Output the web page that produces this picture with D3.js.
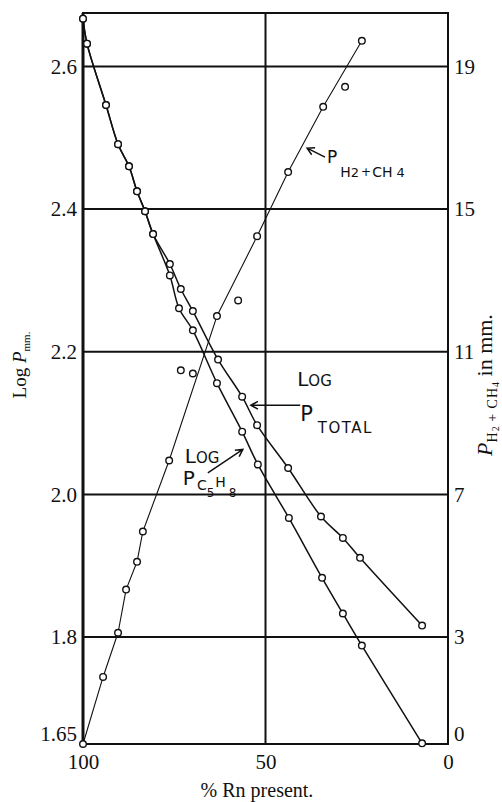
<!DOCTYPE html>
<html>
<head>
<meta charset="utf-8">
<script src="https://d3js.org/d3.v7.min.js"></script>
<style>
body { margin:0; background:#fff; }
text { fill:#111; }
</style>
</head>
<body>
<div id="chart"></div>
<script>

// % Rn present (x) and log P (left axis) for the two falling curves
var pctTotal = [100, 98.9, 93.7, 90.4, 87.4, 85.2, 83.0, 80.8, 76.2, 73.2, 69.9, 63.0, 56.4, 52.3, 43.8, 34.8, 28.8, 24.1, 7.1]
var logTotal = [2.667, 2.632, 2.546, 2.491, 2.460, 2.425, 2.397, 2.365, 2.323, 2.288, 2.257, 2.189, 2.137, 2.097, 2.037, 1.969, 1.939, 1.911, 1.816]

var pctC5H8 = [100, 98.9, 93.7, 90.4, 87.4, 85.2, 83.0, 80.8, 76.2, 73.7, 69.9, 63.3, 56.4, 52.1, 43.6, 34.5, 28.8, 23.6, 7.1]
var logC5H8 = [2.667, 2.632, 2.546, 2.491, 2.460, 2.425, 2.397, 2.365, 2.307, 2.261, 2.230, 2.156, 2.088, 2.042, 1.967, 1.883, 1.833, 1.788, 1.651]

// P H2+CH4 in mm (right axis)
var pctH2 = [100, 94.5, 90.4, 88.2, 85.2, 83.6, 76.4, 63.3, 52.3, 43.8, 34.2, 23.6]
var pH2 = [0, 1.88, 3.12, 4.33, 5.11, 5.96, 7.95, 12.0, 14.24, 16.04, 17.87, 19.72]
// points that sit off the drawn line
var pctH2Off = [73.2, 69.9, 57.5, 28.2]
var pH2Off = [10.48, 10.39, 12.44, 18.43]

var logTicks = [1.65, 1.8, 2.0, 2.2, 2.4, 2.6]
var pTicks = [0, 3, 7, 11, 15, 19]
var pctTicks = [100, 50, 0]

var W = 502, H = 802
var L = 83, R = 448, T = 13, B = 744

var svg = d3.select("#chart").append("svg")
  .attr("width", W)
  .attr("height", H)

var x = d3.scaleLinear().domain([100, 0]).range([L, R])
var yL = d3.scaleLinear().domain([1.65, 2.675]).range([B, T])
var yP = d3.scaleLinear().domain([0, 20.5]).range([B, T])

var serif = "'Liberation Serif', 'Times New Roman', serif"
var sans = "'DejaVu Sans', sans-serif"

function zip(a, b) {
  return a.map(function(d, i) { return [d, b[i]] })
}

// grid
svg.append("g").selectAll("line")
  .data(logTicks.slice(1))
  .enter()
  .append("line")
  .attr("x1", L).attr("x2", R)
  .attr("y1", function(d) { return yL(d) })
  .attr("y2", function(d) { return yL(d) })
  .attr("stroke", "#111")
  .attr("stroke-width", 2)

svg.append("line")
  .attr("x1", x(50)).attr("x2", x(50))
  .attr("y1", T).attr("y2", B)
  .attr("stroke", "#111")
  .attr("stroke-width", 2)

// frame
svg.append("rect")
  .attr("x", L).attr("y", T)
  .attr("width", R - L).attr("height", B - T)
  .attr("fill", "none")
  .attr("stroke", "#111")
  .attr("stroke-width", 2)
svg.append("line")
  .attr("x1", L).attr("x2", L).attr("y1", T).attr("y2", B)
  .attr("stroke", "#111").attr("stroke-width", 3)

// axes (labels only)
var leftAxis = svg.append("g")
  .attr("transform", "translate(" + L + ",0)")
  .call(d3.axisLeft(yL).tickValues(logTicks).tickSize(0).tickPadding(6)
    .tickFormat(function(d) { return d == 1.65 ? "1.65" : d.toFixed(1) }))
var rightAxis = svg.append("g")
  .attr("transform", "translate(" + R + ",0)")
  .call(d3.axisRight(yP).tickValues(pTicks).tickSize(0).tickPadding(6))
var bottomAxis = svg.append("g")
  .attr("transform", "translate(0," + B + ")")
  .call(d3.axisBottom(x).tickValues(pctTicks).tickSize(0).tickPadding(10))

;[leftAxis, rightAxis, bottomAxis].forEach(function(g) {
  g.select(".domain").remove()
  g.selectAll("text")
    .attr("font-family", serif)
    .attr("font-size", 21)
    .attr("fill", "#111")
})
leftAxis.selectAll("text").filter(function(d) { return d == 1.65 }).attr("dy", "-0.15em")
rightAxis.selectAll("text").filter(function(d) { return d == 0 }).attr("dy", "-0.15em")

// axis titles
svg.append("text")
  .attr("x", 257).attr("y", 797)
  .attr("text-anchor", "middle")
  .attr("font-family", serif)
  .attr("font-size", 20)
  .text("% Rn present.")

var leftTitle = svg.append("text")
  .attr("transform", "translate(26,365) rotate(-90)")
  .attr("text-anchor", "middle")
  .attr("font-family", serif)
  .attr("font-size", 19)
leftTitle.append("tspan").text("Log ")
leftTitle.append("tspan").attr("font-style", "italic").text("P")
leftTitle.append("tspan").attr("font-size", 11).attr("dy", 4).text("mm.")

var rightTitle = svg.append("text")
  .attr("transform", "translate(492,385) rotate(-90)")
  .attr("text-anchor", "middle")
  .attr("font-family", serif)
  .attr("font-size", 22)
rightTitle.append("tspan").attr("font-style", "italic").text("P")
rightTitle.append("tspan").attr("font-size", 14).attr("dy", 5).attr("letter-spacing", 1).text("H")
rightTitle.append("tspan").attr("font-size", 10).attr("dy", 2).text("2")
rightTitle.append("tspan").attr("font-size", 14).attr("dy", -2).attr("letter-spacing", 1).text(" + CH")
rightTitle.append("tspan").attr("font-size", 10).attr("dy", 2).text("4")
rightTitle.append("tspan").attr("dy", -7).text(" in mm.")

// curves
var lineLog = d3.line()
  .x(function(d) { return x(d[0]) })
  .y(function(d) { return yL(d[1]) })
  .curve(d3.curveCatmullRom.alpha(0.5))
var lineP = d3.line()
  .x(function(d) { return x(d[0]) })
  .y(function(d) { return yP(d[1]) })

var series = [
  { pts: zip(pctTotal, logTotal), gen: lineLog, y: yL, w: 1.5 },
  { pts: zip(pctC5H8, logC5H8), gen: lineLog, y: yL, w: 1.5 },
  { pts: zip(pctH2, pH2), gen: lineP, y: yP, w: 1.1 }
]

series.forEach(function(s) {
  svg.append("path")
    .attr("d", s.gen(s.pts))
    .attr("fill", "none")
    .attr("stroke", "#111")
    .attr("stroke-width", s.w)
    .attr("stroke-linejoin", "round")
})

function dots(pts, yScale) {
  svg.append("g").selectAll("circle")
    .data(pts)
    .enter()
    .append("circle")
    .attr("cx", function(d) { return x(d[0]) })
    .attr("cy", function(d) { return yScale(d[1]) })
    .attr("r", 3.3)
    .attr("fill", "#fff")
    .attr("stroke", "#111")
    .attr("stroke-width", 1.4)
}
series.forEach(function(s) { dots(s.pts, s.y) })
dots(zip(pctH2Off, pH2Off), yP)

// annotations
function arrow(x1, y1, x2, y2) {
  var a = Math.atan2(y2 - y1, x2 - x1), h = 8
  svg.append("path")
    .attr("d", "M" + x1 + "," + y1 + "L" + x2 + "," + y2 +
      "M" + (x2 - h * Math.cos(a - 0.5)) + "," + (y2 - h * Math.sin(a - 0.5)) +
      "L" + x2 + "," + y2 +
      "L" + (x2 - h * Math.cos(a + 0.5)) + "," + (y2 - h * Math.sin(a + 0.5)))
    .attr("fill", "none")
    .attr("stroke", "#111")
    .attr("stroke-width", 1.5)
}
// parts: [text, size, dx, dy, spacing]
function label(px, py, parts) {
  var t = svg.append("text")
    .attr("x", px).attr("y", py)
    .attr("font-family", sans)
  parts.forEach(function(p) {
    t.append("tspan")
      .attr("font-size", p[1])
      .attr("dx", p[2] || 0)
      .attr("dy", p[3] || 0)
      .attr("letter-spacing", p[4] || 0)
      .text(p[0])
  })
}
function logWord(px, py) {
  label(px, py, [["L", 20], ["OG", 15]])
}

// Log P total
var tx = x(40.5), ty = yL(2.125)
arrow(tx, ty, x(54.0), ty)
logWord(tx - 3, ty - 19)
label(tx, ty + 16, [["P", 21], ["TOTAL", 15, 5, 12, 1.5]])

// Log P C5H8
var cx = x(65.8), cy = yL(2.03)
arrow(cx, cy, x(56.2), yL(2.063))
logWord(cx - 23, cy - 10)
label(cx - 25, cy + 12, [["P", 20], ["C", 14, 2, 5], ["5", 12, 0, 7], ["H", 14, 1, -10], ["8", 12, 3, 10]])

// P H2+CH4
var hx = x(33.7), hy = yP(16.46)
arrow(hx, hy, x(38.6), yP(16.71))
label(hx + 2, hy + 6, [["P", 17], ["H", 14, 3, 14], ["2", 13, 0, 0], ["+", 12, 2, -1], ["CH", 14, 1, 1], ["4", 13, 4, 0]])

</script>
</body>
</html>
